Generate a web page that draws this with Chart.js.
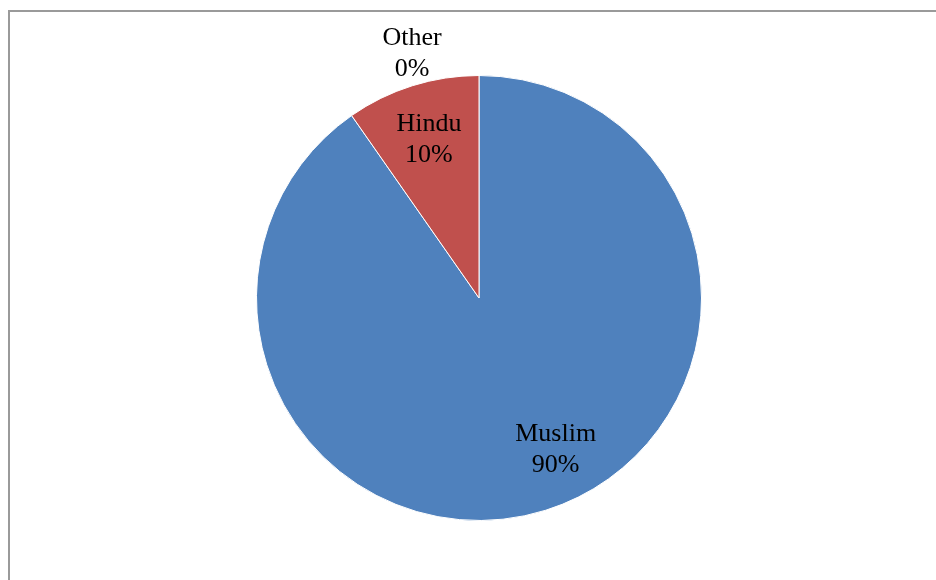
<!DOCTYPE html>
<html>
<head>
<meta charset="utf-8">
<script src="https://cdn.jsdelivr.net/npm/chart.js@4/dist/chart.umd.min.js"></script>
<style>
  html, body { margin: 0; padding: 0; background: #fff; }
  #wrap { width: 936px; height: 580px; position: relative; }
</style>
</head>
<body>
<div id="wrap"><canvas id="pie" width="936" height="580"></canvas></div>
<script>
var religions = ['Muslim', 'Hindu', 'Other'];
var shares = [90.3, 9.7, 0];
var percentLabels = ['90%', '10%', '0%'];
var sliceColors = ['#4F81BD', '#C0504D', '#9BBB59'];

// where each label sits: fraction of radius and angle nudge (degrees)
var labelPlace = [
    { f: 0.76, da: -9.5 },
    { f: 0.75, da: 0 },
    { f: 1.14, da: -15.3 }
];

var frame = {
    id: 'frame',
    beforeDraw: function (chart) {
        var ctx = chart.ctx;
        ctx.save();
        ctx.strokeStyle = '#9a9a9a';
        ctx.lineWidth = 2;
        ctx.beginPath();
        ctx.moveTo(9, 600);
        ctx.lineTo(9, 11);
        ctx.lineTo(960, 11);
        ctx.stroke();
        ctx.restore();
    }
};

var sliceLabels = {
    id: 'sliceLabels',
    afterDatasetsDraw: function (chart) {
        var ctx = chart.ctx;
        var arcs = chart.getDatasetMeta(0).data;
        ctx.save();
        ctx.font = '26px "Liberation Serif", "Times New Roman", serif';
        ctx.fillStyle = '#000';
        ctx.textAlign = 'center';
        ctx.textBaseline = 'middle';
        arcs.forEach(function (arc, i) {
            var p = arc.getProps(['x', 'y', 'startAngle', 'endAngle', 'outerRadius'], true);
            var mid = (p.startAngle + p.endAngle) / 2 + labelPlace[i].da * Math.PI / 180;
            var r = p.outerRadius * labelPlace[i].f;
            var x = p.x + Math.cos(mid) * r;
            var y = p.y + Math.sin(mid) * r;
            ctx.fillText(religions[i], x, y - 15);
            ctx.fillText(percentLabels[i], x, y + 16);
        });
        ctx.restore();
    }
};

new Chart(document.getElementById('pie').getContext('2d'), {
    type: 'pie',
    data: {
        labels: religions,
        datasets: [{
            data: shares,
            backgroundColor: sliceColors,
            borderColor: '#ffffff',
            borderWidth: 1
        }]
    },
    options: {
        responsive: false,
        animation: false,
        layout: { padding: { left: 22, right: 0, top: 75, bottom: 59 } },
        plugins: {
            legend: { display: false },
            tooltip: { enabled: false }
        }
    },
    plugins: [frame, sliceLabels]
});
</script>
</body>
</html>
